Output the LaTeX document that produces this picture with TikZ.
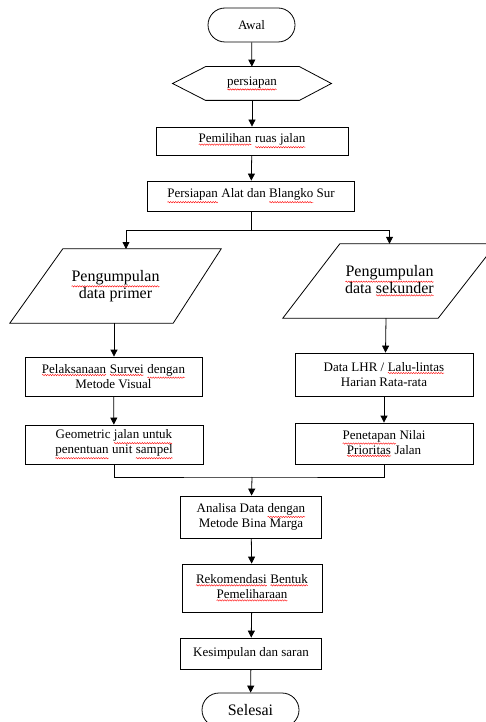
\documentclass[tikz,border=0pt]{standalone}
\usepackage{fontspec}
\setmainfont{Liberation Serif}
\usetikzlibrary{arrows.meta,decorations.pathmorphing}

% red wavy underline for the marked words
\newcommand{\spell}[1]{\tikz[baseline=(w.base)]{\node[inner sep=0pt, outer sep=0pt, draw=none,
      minimum width=0pt, minimum height=0pt, rounded corners=0pt] (w) {#1};
    \draw[red, line width=0.4pt, decorate, decoration={snake, amplitude=0.7pt, segment length=2.5pt}]
      ([yshift=-1.5pt]w.south west) -- ([yshift=-1.5pt]w.south east);}}

\tikzset{
  box/.style={draw, line width=0.8pt, align=center, inner sep=2pt, font=\fontsize{13}{15}\selectfont},
  term/.style={box, rounded corners=17pt},
  big/.style={align=center, font=\fontsize{16}{17}\selectfont},
  flow/.style={line width=0.8pt, -{Triangle[length=7pt,width=7pt]}},
  link/.style={line width=0.8pt},
}

\begin{document}
\begin{tikzpicture}[x=1pt,y=1pt]
    \clip (0,0) rectangle (486,-722);
    \fill[white] (0,0) rectangle (486,-722);
    % start and preparation
    \node[term, minimum width=87pt, minimum height=34pt] (awal) at (251.5,-25) {Awal};
    \node[box, draw=none, minimum width=158pt, minimum height=33pt] (prep) at (252,-83.5) {\spell{persiapan}};
    \draw[link] (prep.west) -- ([xshift=33pt]prep.north west) -- ([xshift=-32pt]prep.north east)
        -- (prep.east) -- ([xshift=-32pt]prep.south east) -- ([xshift=33pt]prep.south west) -- cycle;
    \node[box, minimum width=192pt, minimum height=28pt] (ruas) at (252,-141) {\spell{Pemilihan} \spell{ruas jalan}};
    \node[box, minimum width=207pt, minimum height=30pt] (alat) at (251,-196) {\spell{Persiapan} Alat dan \spell{Blangko} Sur};
    % data collection
    \node[big, minimum width=211pt, minimum height=74pt] (prim) at (115.5,-286) {\spell{Pengumpulan}\\data primer};
    \draw[link] ([xshift=53pt]prim.north west) -- (prim.north east) -- ([xshift=-48pt]prim.south east)
        -- (prim.south west) -- cycle;
    \node[big, minimum width=213pt, minimum height=74pt] (sek) at (389.5,-281) {\spell{Pengumpulan}\\data \spell{sekunder}};
    \draw[link] ([xshift=57pt]sek.north west) -- (sek.north east) -- ([xshift=-58pt]sek.south east)
        -- (sek.south west) -- cycle;
    \node[box, minimum width=177pt, minimum height=39pt] (survei) at (113.5,-376.5) {\spell{Pelaksanaan} \spell{Survei} \spell{dengan}\\Metode Visual};
    \node[box, minimum width=178pt, minimum height=43pt] (lhr) at (384,-374.5) {Data LHR / \spell{Lalu-lintas}\\Harian Rata-rata};
    \node[box, minimum width=178pt, minimum height=39pt] (geom) at (114,-444.5) {Geometric \spell{jalan untuk}\\\spell{penentuan} unit \spell{sampel}};
    \node[box, minimum width=178pt, minimum height=41pt] (nilai) at (384,-443.5) {\spell{Penetapan} Nilai\\\spell{Prioritas} Jalan};
    % analysis and end
    \node[box, minimum width=141pt, minimum height=42pt] (analisa) at (251,-517) {Analisa Data \spell{dengan}\\Metode Bina Marga};
    \node[box, minimum width=140pt, minimum height=48pt] (rekom) at (252,-588) {\spell{Rekomendasi} \spell{Bentuk}\\\spell{Pemeliharaan}};
    \node[box, minimum width=141pt, minimum height=31pt] (simpul) at (251,-653.5) {Kesimpulan dan saran};
    \node[term, minimum width=97pt, minimum height=34pt, font=\fontsize{16}{17}\selectfont] (selesai) at (250.5,-710) {Selesai};
    % connectors
    \coordinate (fork) at (251,-230);
    \coordinate (primin) at (126,-249);
    \coordinate (join) at (252,-477);
    \draw[flow] (awal) -- (prep);
    \draw[flow] (prep) -- (ruas);
    \draw[flow] (ruas) -- (alat);
    \draw[link] (alat) -- (fork);
    \draw[flow] (fork) -| (primin);
    \draw[flow] (fork) -| (sek.north);
    \draw[flow] ([xshift=-1.5pt]prim.south) -- ([xshift=0.5pt]survei.north);
    \draw[flow] ([xshift=-3.5pt]sek.south) -- ([xshift=1.5pt]lhr.north);
    \draw[flow] (survei) -- (geom);
    \draw[flow] (lhr) -- (nilai);
    \draw[link] (geom.south) |- (join) -| (nilai.south);
    \draw[flow] (join) -- (analisa);
    \draw[flow] (analisa) -- (rekom);
    \draw[flow] (rekom) -- (simpul);
    \draw[flow] (simpul) -- (selesai);
\end{tikzpicture}
\end{document}
